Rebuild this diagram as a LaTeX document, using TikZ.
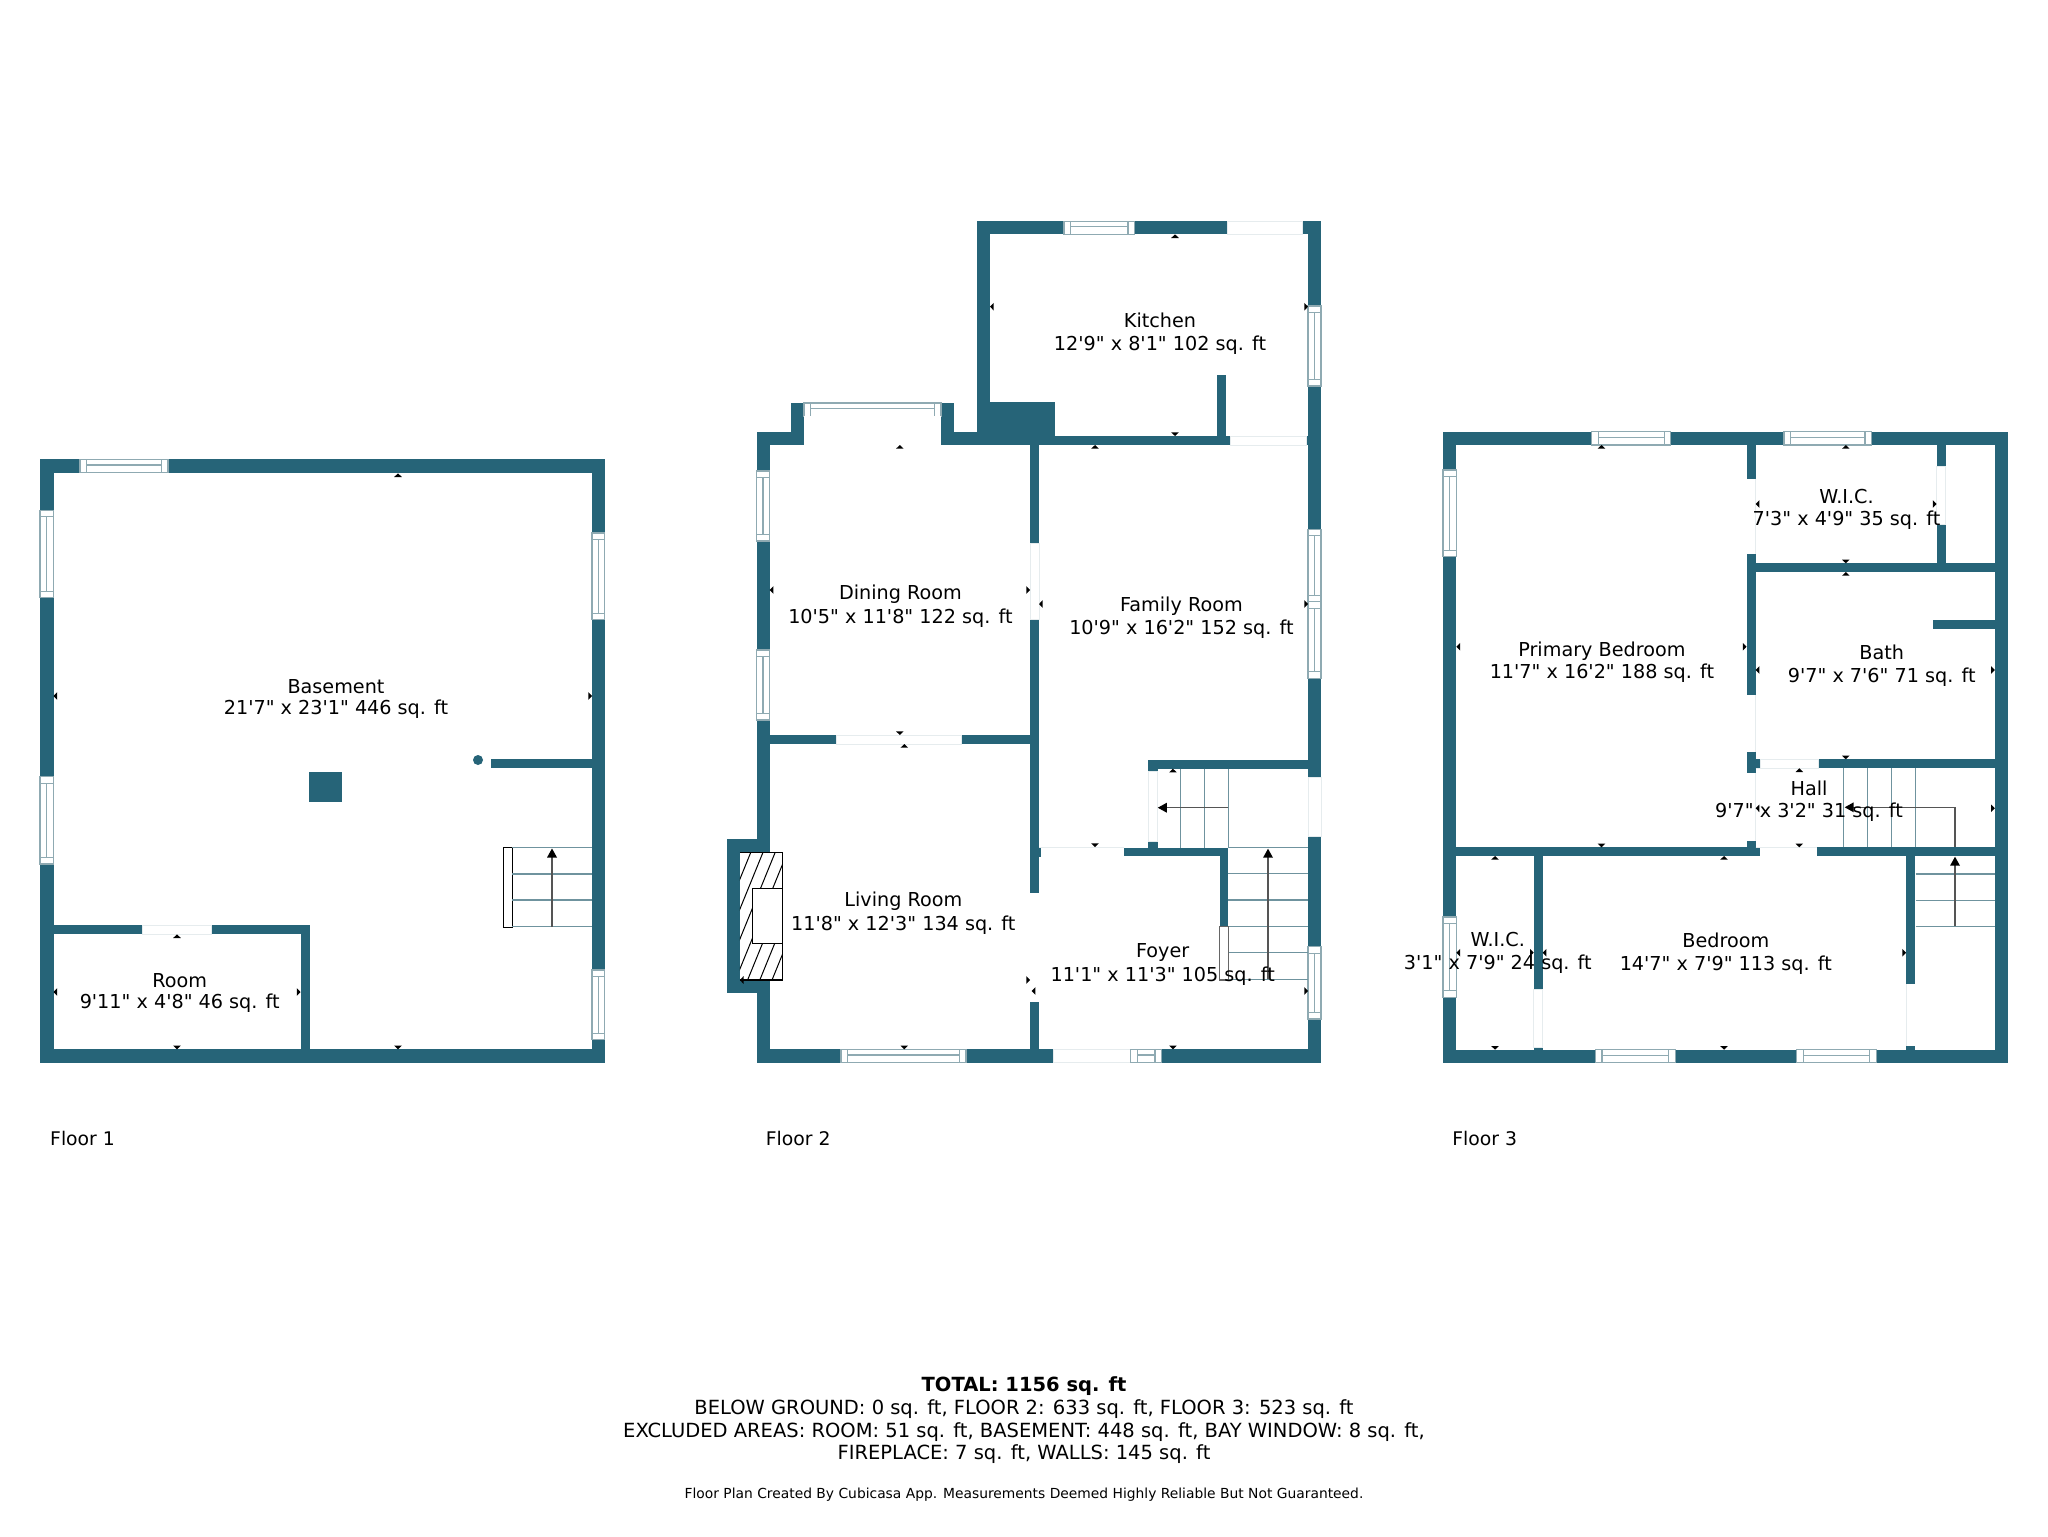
\documentclass[tikz,border=0pt]{standalone}
\usepackage{fontspec}
\newfontfamily\lab{DejaVu Sans}
\definecolor{wallc}{HTML}{266478}
\definecolor{winl}{HTML}{8FAAB2}
\definecolor{gapl}{HTML}{E6ECEE}
\definecolor{stairl}{HTML}{6F939E}
\definecolor{arrl}{HTML}{555555}
\newcommand{\W}[4]{\fill[wallc] (#1,#2) rectangle (#3,#4);}
\newcommand{\G}[4]{\fill[white] (#1,#2) rectangle (#3,#4);\draw[gapl,line width=.4pt] (#1,#2) rectangle (#3,#4);}
\newcommand{\winh}[4]{\fill[white] (#1,#2) rectangle (#3,#4);\draw[winl,line width=.6pt] (#1,#2) rectangle (#3,#4);
 \pgfmathsetmacro\wa{#1+6.5}\pgfmathsetmacro\wb{#3-6.5}\pgfmathsetmacro\wm{#2+(#4-#2)*.42}
 \draw[winl,line width=.6pt] (\wa,#2) -- (\wa,#4) (\wb,#2) -- (\wb,#4) (\wa,\wm) -- (\wb,\wm);}
\newcommand{\winv}[4]{\fill[white] (#1,#2) rectangle (#3,#4);\draw[winl,line width=.6pt] (#1,#2) rectangle (#3,#4);
 \pgfmathsetmacro\wa{#2+6.5}\pgfmathsetmacro\wb{#4-6.5}\pgfmathsetmacro\wm{#1+(#3-#1)*.5}
 \draw[winl,line width=.6pt] (#1,\wa) -- (#3,\wa) (#1,\wb) -- (#3,\wb) (\wm,\wa) -- (\wm,\wb);}
\newcommand{\dimU}[2]{\fill[black] (#1,#2) -- ++(-3.8,3.7) -- ++(7.6,0) -- cycle;}
\newcommand{\dimD}[2]{\fill[black] (#1,#2) -- ++(-3.8,-3.7) -- ++(7.6,0) -- cycle;}
\newcommand{\dimL}[2]{\fill[black] (#1,#2) -- ++(3.7,-3.8) -- ++(0,7.6) -- cycle;}
\newcommand{\dimR}[2]{\fill[black] (#1,#2) -- ++(-3.7,-3.8) -- ++(0,7.6) -- cycle;}
\newcommand{\headU}[2]{\fill[black] (#1,#2) -- ++(-5,9) -- ++(10,0) -- cycle;}
\newcommand{\headL}[2]{\fill[black] (#1,#2) -- ++(9,-5) -- ++(0,10) -- cycle;}
\newcommand{\rl}[6]{\node[lbl] (#1a) at (#2,#3) {#5};\node[lbl] (#1b) at (#2,#4) {#6};}
\tikzset{lbl/.style={font=\lab\fontsize{9.6pt}{11pt}\selectfont,anchor=mid,inner sep=0pt,text=black,yshift=-0.6pt},
 flr/.style={lbl,anchor=west,yshift=0pt,font=\lab\fontsize{9.4pt}{11pt}\selectfont},
 tot/.style={lbl,yshift=-0.8pt,font=\lab\fontsize{9.75pt}{11pt}\selectfont},
 stairln/.style={stairl,line width=.55pt},
 arrln/.style={arrl,line width=.6pt}}
\begin{document}
\begin{tikzpicture}[x=0.5pt,y=-0.5pt]
\useasboundingbox (0,0) rectangle (2048,1536);
\fill[white] (0,0) rectangle (2048,1536);
% ===== Floor 1
\W{40}{459.3}{604.5}{472.7}
\W{40}{1049.3}{604.5}{1062.7}
\W{40}{459.3}{53.5}{1062.7}
\W{592}{459.3}{604.5}{1062.7}
\winh{80}{459.3}{168}{472.7}
\winv{40}{510.3}{53.5}{597.7}
\winv{40}{776.7}{53.5}{864}
\winv{592}{533}{604.5}{619.7}
\winv{592}{970}{604.5}{1039.7}
\W{490.6}{759.3}{592}{768.3}
\fill[wallc] (478,760) circle [radius=5];
\W{308.6}{771.7}{342.4}{801.7}
\W{53.5}{925.3}{310}{934.3}
\W{301}{925.3}{310}{1049.3}
\G{142}{925.3}{211}{934.3}
\draw[black,fill=white,line width=.55pt] (503.7,847.3) rectangle (512.2,927.3);
\draw[stairln] (512.2,847.3) -- (592,847.3) (512.2,874) -- (592,874) (512.2,900) -- (592,900) (512.2,926.7) -- (592,926.7);
\draw[arrln] (552,926.7) -- (552,855);
\headU{552}{848.5}
\dimU{398}{473.3}\dimL{53.5}{696}\dimR{592}{696}\dimD{398}{1049.3}
\dimU{177}{934.3}\dimD{177}{1049.3}\dimL{53.5}{992}\dimR{300.5}{992}
\rl{bas}{336}{687.7}{709.3}{Basement}{21'7" x 23'1" 446 sq. ft}
\rl{room}{179.7}{981.7}{1002.7}{Room}{9'11" x 4'8" 46 sq. ft}
\node[flr] (f1) at (49.8,1137.7) {Floor 1};
% ===== Floor 2
\W{977}{221.3}{1321}{234.3}
\W{977}{221.3}{990}{445}
\W{1308}{221.3}{1321}{1062.7}
\W{990}{402.3}{1054.9}{445}
\W{977}{436}{1308}{445}
\W{1216.5}{375}{1225.5}{436}
\W{756.5}{431.7}{803.9}{445}
\W{790.8}{403}{803.9}{445}
\W{941}{403}{954}{445}
\W{941}{431.7}{977}{445}
\W{756.5}{431.7}{769.6}{1062.7}
\W{1030}{445}{1039}{893.3}
\W{1039}{846.7}{1041}{856.7}
\W{1030}{1002}{1039}{1062.7}
\W{769.6}{735}{1030}{744}
\W{756.5}{1049.3}{1321}{1062.7}
\W{1148.4}{760}{1308}{768.7}
\W{1148.4}{760}{1157.8}{771.7}
\W{1148.4}{841.7}{1157.8}{856}
\W{1123.9}{847.7}{1228.4}{856}
\W{1219.8}{847.7}{1228.4}{926.7}
\W{727}{839.3}{769.6}{852.3}
\W{727}{980}{769.6}{992.7}
\W{727}{839.3}{739.8}{992.7}
% openings
\winh{1063.9}{221.3}{1134.5}{234.3}
\G{1227}{221.3}{1302}{234.3}
\winv{1308}{306}{1321}{386}
\G{1230}{436}{1306.7}{445}
\winh{803.9}{403}{941}{416.3}
\fill[white] (803.9,416.3) rectangle (941,445);
\winv{756.5}{471}{769.6}{541}
\winv{756.5}{650}{769.6}{720}
\G{1030}{543.3}{1039}{619.3}
\G{836}{735}{961.4}{744}
\winv{1308}{529.3}{1321}{601.7}
\winv{1308}{601.7}{1321}{678.3}
\G{1308}{777.3}{1321}{836.7}
\winv{1308}{946.7}{1321}{1019}
\G{1148.4}{771.7}{1157.8}{841.7}
\winh{841}{1049.3}{966}{1062.7}
\G{1053.3}{1049.3}{1130.8}{1062.7}
\winh{1130.8}{1049.3}{1161.4}{1062.7}
\draw[gapl,line width=.4pt] (1039,847.7) -- (1123.9,847.7);
% stairs
\draw[stairln] (1180.2,768.7) -- (1180.2,847.7) (1204.7,768.7) -- (1204.7,847.7) (1228.4,768.7) -- (1228.4,847.7);
\draw[arrln] (1228.4,807.7) -- (1165,807.7);
\headL{1157.8}{807.7}
\draw[stairln] (1228.4,847.7) -- (1308,847.7) (1228.4,873.7) -- (1308,873.7) (1228.4,900) -- (1308,900) (1228.4,926.3) -- (1308,926.3) (1228.4,952.7) -- (1308,952.7) (1219.8,979.5) -- (1308,979.5);
\draw[black!60,fill=white,line width=.6pt] (1219.8,926.7) rectangle (1228.4,980);
\draw[arrln] (1268,979) -- (1268,855);
\headU{1268}{848.7}
% fireplace
\begin{scope}
\clip (739.8,852.3) rectangle (782.7,980);
\fill[white] (739.8,852.3) rectangle (782.7,980);
\foreach \i in {-1,...,8}{\draw[black,line width=.5pt] ({698.8+\i*12.2},980) -- ({750.8+\i*12.2},852.3);}
\end{scope}
\draw[black,line width=.6pt] (739.8,852.3) -- (782.7,852.3) -- (782.7,980) -- (739.8,980);
\draw[black,fill=white,line width=.6pt] (752.4,888.7) rectangle (782.7,943.3);
% dims
\dimU{1175}{234.3}\dimL{990}{306.7}\dimR{1308}{306.7}\dimD{1175}{436}
\dimU{1095}{445}\dimL{1039}{604}\dimR{1308}{604}\dimD{1095}{847}
\dimU{899.8}{445}\dimL{769.6}{590}\dimR{1030}{590}\dimD{899.8}{735}
\dimU{904.3}{744}\dimD{904.3}{1049.3}\dimL{739.8}{980}\dimR{1030}{980}
\dimL{1031.6}{991}\dimR{1308}{991}\dimU{1172.9}{768.7}\dimD{1172.9}{1049.3}
\rl{kit}{1160}{321.7}{345}{Kitchen}{12'9" x 8'1" 102 sq. ft}
\rl{din}{900.4}{594.3}{617.7}{Dining Room}{10'5" x 11'8" 122 sq. ft}
\rl{fam}{1181.4}{606}{629.3}{Family Room}{10'9" x 16'2" 152 sq. ft}
\rl{liv}{903.3}{901}{925}{Living Room}{11'8" x 12'3" 134 sq. ft}
\rl{foy}{1162.7}{951.7}{976}{Foyer}{11'1" x 11'3" 105 sq. ft}
\node[flr] (f2) at (765.5,1137.7) {Floor 2};
% ===== Floor 3
\W{1443}{431.7}{2007.9}{445}
\W{1443}{1049.7}{2007.9}{1062.7}
\W{1443}{431.7}{1456.4}{1062.7}
\W{1994.8}{431.7}{2007.9}{1062.7}
\W{1746.5}{445}{1755.6}{478.7}
\W{1746.5}{554.3}{1755.6}{695.3}
\W{1746.5}{752.3}{1755.6}{773.3}
\W{1755.6}{759.3}{1760}{768.3}
\W{1746.5}{841}{1755.6}{847.3}
\W{1456.4}{847.3}{1760}{856}
\W{1817}{847.3}{1994.8}{856}
\W{1817.9}{759.3}{1994.8}{768.3}
\W{1746.5}{563.3}{1994.8}{572}
\W{1936.5}{445}{1945.6}{466.7}
\W{1936.5}{524}{1945.6}{572}
\W{1933.3}{619.7}{1994.8}{628.7}
\W{1906}{856}{1915.2}{984.3}
\W{1906}{1045.7}{1915.2}{1049.7}
\W{1533.7}{856}{1542.7}{989.3}
\W{1533.7}{1047}{1542.7}{1049.7}
\winh{1591.6}{431.7}{1670.8}{445}
\winh{1784}{431.7}{1871.5}{445}
\winv{1443}{470}{1456.4}{556.7}
\winv{1443}{917}{1456.4}{997.3}
\winh{1595.5}{1049.7}{1675.2}{1062.7}
\winh{1796.6}{1049.7}{1876.2}{1062.7}
\G{1760}{759.3}{1817.9}{768.3}
\draw[gapl,line width=.4pt] (1755.6,478.7) -- (1755.6,554.3) (1755.6,695.3) -- (1755.6,752.3) (1755.6,773.3) -- (1755.6,841) (1755.6,768.3) -- (1817.9,768.3) (1755.6,847.3) -- (1817,847.3) (1936.5,466.7) rectangle (1945.6,524) (1533.7,989.3) rectangle (1542.7,1047) (1906,984.3) -- (1906,1045.7);
% stairs
\draw[stairl,line width=.45pt] (1843.5,768.3) -- (1843.5,847.3) (1867.5,768.3) -- (1867.5,847.3) (1891.6,768.3) -- (1891.6,847.3) (1915.6,768.3) -- (1915.6,847.3);
\draw[stairln] (1915.6,874) -- (1994.8,874) (1915.6,900.3) -- (1994.8,900.3) (1915.6,926.3) -- (1994.8,926.3);
\draw[arrln] (1955,847.3) -- (1955,807.3) -- (1852,807.3);
\headL{1844.7}{807.3}
\draw[arrln] (1955,926.3) -- (1955,862);
\headU{1955}{856.7}
% dims
\dimU{1601.5}{445}\dimD{1601.5}{847.3}\dimL{1456.4}{646.7}\dimR{1746.5}{646.7}
\dimU{1845.8}{445}\dimD{1845.8}{563.3}\dimL{1755.6}{504}\dimR{1936.5}{504}
\dimU{1845.8}{572}\dimD{1845.8}{759.3}\dimL{1755.6}{670}\dimR{1994.8}{670}
\dimU{1799.3}{768.3}\dimD{1799.3}{847.3}\dimL{1755.6}{808.3}\dimR{1994.8}{808.3}
\dimU{1724}{856}\dimD{1724}{1049.7}\dimL{1542.7}{952.7}\dimR{1906}{952.7}
\dimU{1495}{856}\dimD{1495}{1049.7}\dimL{1456.4}{952.7}\dimR{1533.7}{952.7}
\rl{wica}{1846.5}{497.7}{520}{W.I.C.}{7'3" x 4'9" 35 sq. ft}
\rl{pri}{1601.9}{651}{673.3}{Primary Bedroom}{11'7" x 16'2" 188 sq. ft}
\rl{bath}{1881.7}{654.3}{676.7}{Bath}{9'7" x 7'6" 71 sq. ft}
\rl{hall}{1809}{790}{811.7}{Hall}{9'7" x 3'2" 31 sq. ft}
\rl{bed}{1725.8}{942.3}{965}{Bedroom}{14'7" x 7'9" 113 sq. ft}
\rl{wicb}{1497.8}{941}{964}{W.I.C.}{3'1" x 7'9" 24 sq. ft}
\node[flr] (f3) at (1452,1137.7) {Floor 3};
% ===== Totals
\node[tot] (t1) at (1024,1384.3) {\bfseries TOTAL: 1156 sq. ft};
\node[tot] (t2) at (1024,1407.3) {BELOW GROUND: 0 sq. ft, FLOOR 2: 633 sq. ft, FLOOR 3: 523 sq. ft};
\node[tot] (t3) at (1024,1430) {EXCLUDED AREAS: ROOM: 51 sq. ft, BASEMENT: 448 sq. ft, BAY WINDOW: 8 sq. ft,};
\node[tot] (t4) at (1024,1452.7) {FIREPLACE: 7 sq. ft, WALLS: 145 sq. ft};
\node[lbl,font=\lab\fontsize{6.92pt}{8pt}\selectfont,yshift=0pt] (t5) at (1024,1493.3) {Floor Plan Created By Cubicasa App. Measurements Deemed Highly Reliable But Not Guaranteed.};
\end{tikzpicture}
\end{document}
